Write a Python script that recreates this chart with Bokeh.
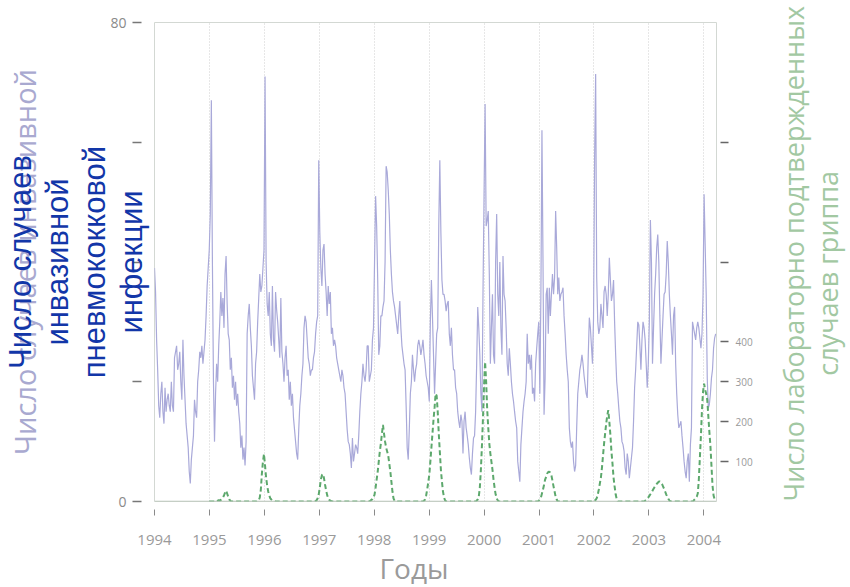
import math
from bokeh.plotting import figure
from bokeh.models import Range1d, LinearAxis, FixedTicker, Span, Title
from bokeh.embed import file_html
from bokeh.resources import INLINE

# ---------------- data ----------------
first_year = 1994
weeks_per_year = 365.25 / 7
year_ticks = list(range(1994, 2005))
case_ticks = [0, 20, 40, 60, 80]
case_tick_labels = {0: "0", 20: "", 40: "", 60: "", 80: "80"}
flu_ticks = [100, 200, 300, 400, 600, 900]
flu_tick_labels = {100: "100", 200: "200", 300: "300", 400: "400", 600: "", 900: ""}

# weekly number of invasive pneumococcal cases, from the first week of 1994
weekly_cases = [
    39, 35, 27, 22, 16, 14, 18, 20, 15, 13, 19, 15, 17, 18, 16, 15, 20, 16, 15, 24,
    25, 26, 22, 23, 25, 20, 17, 27, 21, 17, 13, 11, 9, 5, 3, 7, 9, 11, 17, 15,
    14, 20, 22, 25, 24, 26, 23, 25, 27, 31, 36, 39, 42,
    48, 67, 40, 20, 10,
    18, 23, 20, 26, 30, 35, 31, 34, 29, 38, 41, 33, 28, 27, 22, 24, 19, 21, 17, 20, 16, 18,
    15, 13, 9, 11, 7, 9, 6, 10,
    28, 31, 33, 29, 26, 21, 19, 17, 23, 25, 30, 34, 38, 35, 36, 39, 42,
    71, 40, 33, 31, 35, 28, 26, 36, 27, 25, 35, 32, 30, 27, 24, 34, 25,
    23, 20, 24, 26, 21, 22, 17, 20, 16, 18,
    14, 12, 10, 8, 7, 12, 16, 18, 21, 23, 29, 31, 30, 27, 24, 23, 21, 22, 22, 24, 25, 28, 30, 31, 57,
    45, 39, 36, 42, 43, 38, 35, 31, 36, 33, 35, 28, 29, 26, 27, 26, 24, 23, 22, 21, 20, 22, 21,
    19, 18, 15, 12, 10, 9.5, 8, 5.6, 10.6, 6.7,
    8, 9.5, 9, 8, 11, 15, 18, 20, 23, 21,
    20, 22, 26, 26, 20, 21, 22, 27, 29, 40,
    51, 46, 37, 24.5, 26, 31, 31, 32.5, 33.5, 40,
    56, 55, 52, 48, 42, 38, 35, 33.5, 32.5, 31,
    29.5, 28, 31, 33.5, 29, 26, 24.5, 23, 22, 16,
    9, 7, 12, 18, 20, 24.5, 22, 20, 22, 23,
    26, 27, 26, 24.5, 25.6, 27, 24.5, 23, 21, 20,
    19, 16.7,
    30, 37, 31, 24.5, 18, 23, 28, 29, 46, 57,
    45, 37, 34.6, 34.6, 33.5, 31.8, 33, 33.5, 28, 26,
    29, 24.5, 22, 22, 19, 18, 15, 13.4, 12.3, 14.5,
    13.4, 8, 13.4, 15, 12.3, 11, 9.5, 7.3, 5.6, 4.5,
    8, 10.6, 11, 15, 23, 32.5, 29, 24.5, 18, 15,
    34.6, 51, 66.4, 46, 47, 48.5, 38, 23, 29, 34.6,
    24.5, 23, 40, 48, 34.6, 31, 40, 29, 24.5, 41,
    34.6, 33.5, 29, 23, 21, 25.6, 23, 20, 18, 16.7,
    15, 13.4, 12.3, 6.7, 5, 3.3, 9.5, 12.3, 15, 16.7,
    18, 20, 28, 23, 24.5, 22, 24.5, 18,
    19, 16.7, 23, 25.6, 28, 30, 18, 34.6, 62, 40,
    14.5, 20.6, 34.6, 35.7, 28, 35.7, 31, 34.6, 38, 34.6,
    37.4, 48.5, 42.4, 34.6, 37.4, 33.5, 34.6, 35, 35.7, 31,
    28, 24.5, 22, 20, 12.3, 10, 9, 10, 6.7, 5,
    6, 12.3, 18, 20, 22, 23, 24.5, 23, 21, 19.5,
    18, 17.3, 24.5, 30.7, 29, 26, 23, 30.7, 57, 71.4,
    37.4, 30, 28, 29, 33, 31, 29, 35, 36, 34.6,
    31, 34.6, 40.7, 37, 33.5, 34.6, 37, 30, 24.5, 20,
    18, 15.6, 13.4, 12.3, 10, 9.5, 8.4, 5.6, 4.5, 8,
    6.7, 3.9, 5.6, 7.3, 9, 13.4, 19, 22, 26, 30,
    29.5, 26, 22, 27, 30, 29, 27, 23, 19, 23,
    30, 47, 40, 23, 29, 34.6, 38, 42.4, 44.6, 40,
    31, 23, 27, 31, 34.6, 35, 38, 43.5, 40, 34.6,
    31, 28, 24.5, 31, 32.5, 23, 18, 14.5, 12.3, 12.8,
    13.4, 11, 9, 6.7, 5, 3.9, 6.7, 8, 3.3, 9.5,
    12.3, 30, 29, 28, 27, 29, 30, 29, 27.3, 25.6,
    28, 34.6, 51.3, 43, 34.6, 20.6, 15.6, 16.2, 18, 20.6,
    22, 25.6, 27.3, 28,
]

# weekly laboratory-confirmed influenza cases (zero outside the seasons listed)
flu_first_week = 52
flu_season_start_weeks = [60, 98, 153, 205, 256, 306, 365, 418, 466, 512]
flu_season_values = [
    [2, 3, 2, 4, 6, 10, 15, 22, 27, 20, 12, 5, 2],
    [1, 3, 10, 30, 70, 100, 119, 90, 60, 40, 25, 15, 8, 5, 3, 2, 1],
    [1, 3, 8, 18, 35, 55, 66, 69, 58, 42, 28, 16, 8, 4, 2, 1],
    [2, 4, 6, 10, 17, 35, 55, 75, 100, 125, 145, 170, 192, 170, 150, 135, 125, 115, 95, 75, 50, 25, 8, 2],
    [2, 5, 15, 30, 48, 67, 100, 135, 170, 205, 235, 270, 265, 225, 170, 125, 80, 50, 25, 10, 3],
    [2, 5, 12, 35, 80, 140, 210, 290, 350, 300, 230, 185, 145, 120, 100, 80, 55, 35, 18, 8, 3],
    [2, 5, 10, 20, 30, 42, 55, 62, 70, 74, 75, 72, 65, 52, 38, 25, 12, 5],
    [2, 4, 8, 17, 30, 45, 60, 85, 115, 145, 170, 195, 215, 229, 200, 167, 125, 95, 60, 38, 18, 6],
    [2, 4, 7, 10, 14, 18, 22, 27, 32, 36, 40, 44, 47, 50, 50, 48, 44, 38, 32, 25, 18, 12, 7, 3],
    [2, 5, 8, 12, 20, 55, 110, 165, 230, 275, 295, 280, 270, 255, 215, 175, 140, 90, 40, 15, 5, 2],
]

left_title_grey = "Число случаев инвазивной"
left_title_blue = "Число случаев\nинвазивной\nпневмококковой\nинфекции"
right_title_line1 = "Число лабораторно подтвержденных"
right_title_line2 = "случаев гриппа"
x_title = "Годы"

# ---------------- build ----------------
case_x = [first_year + i / weeks_per_year for i in range(len(weekly_cases))]
flu_counts = [0.0] * (len(weekly_cases) - flu_first_week)
for start, vals in zip(flu_season_start_weeks, flu_season_values):
    for k, v in enumerate(vals):
        flu_counts[start - flu_first_week + k] = v
flu_x = [first_year + (flu_first_week + i) / weeks_per_year for i in range(len(flu_counts))]

p = figure(width=850, height=587, output_backend="svg", toolbar_location=None,
           x_range=Range1d(1994.0, 2004.23), y_range=Range1d(0, 80),
           min_border_left=154, min_border_right=134, min_border_top=22, min_border_bottom=86,
           background_fill_color="white", border_fill_color="white")
p.outline_line_color = "#d3d8d3"
p.outline_line_width = 1

# x axis
xa = p.xaxis[0]
xa.ticker = FixedTicker(ticks=year_ticks)
xa.axis_line_color = None
xa.major_tick_in = -8
xa.major_tick_out = 14
xa.major_tick_line_color = "#8a8a8a"
xa.major_tick_line_width = 1
xa.minor_tick_line_color = None
xa.major_label_standoff = 19
xa.major_label_text_font = "Open Sans"
xa.major_label_text_font_size = "15px"
xa.major_label_text_color = "#9a9a9a"

# left axis (cases) with the blue title as its label
ya = p.yaxis[0]
ya.ticker = FixedTicker(ticks=case_ticks)
ya.major_label_overrides = case_tick_labels
ya.axis_line_color = None
ya.major_tick_in = -13
ya.major_tick_out = 22
ya.major_tick_line_color = "#777777"
ya.major_tick_line_width = 1.3
ya.minor_tick_line_color = None
ya.major_label_standoff = 6
ya.major_label_text_font = "Open Sans"
ya.major_label_text_font_size = "14px"
ya.major_label_text_color = "#8a8a8a"
ya.axis_label = left_title_blue
ya.axis_label_standoff = -42
ya.axis_label_text_font = "Liberation Sans"
ya.axis_label_text_font_size = "31px"
ya.axis_label_text_font_style = "normal"
ya.axis_label_text_color = "#1236a8"
ya.axis_label_text_align = "center"
ya.axis_label_text_line_height = 1.057
ya.level = "overlay"

# grey (original) left title, drawn underneath the blue one
ga = LinearAxis(ticker=FixedTicker(ticks=[]), axis_line_color=None,
                major_tick_line_color=None, minor_tick_line_color=None,
                major_tick_in=0, major_tick_out=0, minor_tick_in=0, minor_tick_out=0,
                major_label_standoff=0,
                axis_label=left_title_grey, axis_label_standoff=-43,
                axis_label_text_font="Open Sans", axis_label_text_font_size="29px",
                axis_label_text_font_style="normal", axis_label_text_color="#a9a9d0")
p.add_layout(ga, "left")

# right axis (influenza)
p.extra_y_ranges = {"flu": Range1d(0, 1200)}
ra = LinearAxis(y_range_name="flu", ticker=FixedTicker(ticks=flu_ticks),
                major_label_overrides=flu_tick_labels)
ra.axis_line_color = None
ra.major_tick_in = -4
ra.major_tick_out = 12
ra.major_tick_line_color = "#666666"
ra.major_tick_line_width = 1.5
ra.minor_tick_line_color = None
ra.major_label_standoff = 7
ra.major_label_text_font = "Open Sans"
ra.major_label_text_font_size = "10px"
ra.major_label_text_color = "#999999"
p.add_layout(ra, "right")

# right title: two rotated lines, each starting at a chosen height
def title_axis(tick, text, standoff, shrink=None):
    ax = LinearAxis(ticker=FixedTicker(ticks=[tick]), major_label_overrides={tick: text},
                    axis_line_color=None, major_tick_line_color=None, minor_tick_line_color=None,
                    major_tick_in=0, major_tick_out=0, minor_tick_in=0, minor_tick_out=0,
                    major_label_standoff=standoff, major_label_orientation=math.pi / 2,
                    major_label_text_font="Open Sans", major_label_text_font_size="27px",
                    major_label_text_color="#a2c8a2")
    if shrink is not None:
        ax.axis_label = "\u00a0"
        ax.axis_label_standoff = shrink
        ax.axis_label_text_font_size = "8px"
        ax.axis_label_text_color = "white"
    return ax

p.add_layout(title_axis(0, right_title_line1, 38), "right")
p.add_layout(title_axis(21, right_title_line2, -6, shrink=-80), "right")

# x title
p.add_layout(Title(text=x_title, align="left", offset=225, standoff=-1,
                   text_font="Open Sans", text_font_size="28px",
                   text_font_style="normal", text_color="#9a9a9a"), "below")

# grids
p.ygrid.visible = False
p.xgrid.ticker = FixedTicker(ticks=year_ticks[1:])
p.xgrid.grid_line_color = "#cfcfcf"
p.xgrid.grid_line_dash = "1 2"
p.xgrid.grid_line_width = 1

# series
p.line(case_x, weekly_cases, line_color="#a9a9d9", line_width=1.2)
p.add_layout(Span(location=0, dimension="width", line_color="#b7c3b7", line_width=1.5))
p.line(flu_x, flu_counts, y_range_name="flu", line_color="#5ca86c", line_width=2, line_dash="5 3")

open("out.html", "w").write(file_html(p, INLINE))
